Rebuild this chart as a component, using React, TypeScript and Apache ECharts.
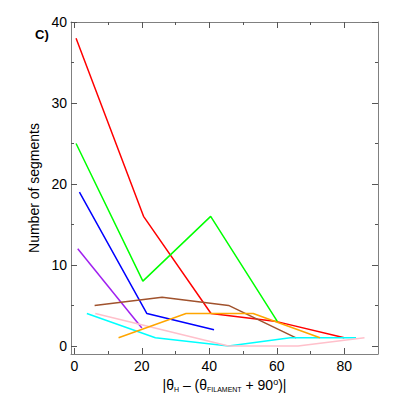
import React, { useEffect, useRef } from "react";
import * as echarts from "echarts";

const redData = [[0.5, 38], [20.5, 16], [40.5, 4], [60, 3], [80, 1]];
const greenData = [[0.5, 25], [20.3, 8], [40.4, 16], [60.2, 3]];
const blueData = [[1.5, 19], [21.5, 4], [41.4, 2]];
const purpleData = [[1, 12], [20, 2.2]];
const brownData = [[6, 5], [26, 6], [45.7, 5], [65.7, 1]];
const cyanData = [[3.7, 4], [24, 1], [45.7, 0], [64, 1], [83.5, 1]];
const pinkData = [[6.2, 4], [26, 2], [45.7, 0], [66.3, 0], [86, 1]];
const orangeData = [[13.1, 1], [33.1, 4], [53, 4], [72.8, 1]];

const xMajor = [0, 20, 40, 60, 80];
const xMinor = [10, 30, 50, 70];
const yMajor = [0, 10, 20, 30, 40];
const yMinor = [5, 15, 25, 35];

const FONT = "Liberation Sans, Arial, Helvetica, sans-serif";
const AX = "#808080";

export default function App() {
  const ref = useRef<HTMLDivElement>(null);
  useEffect(() => {
    if (!ref.current) return;
    const chart = echarts.init(ref.current, null, { renderer: "svg" });
    const baseX = (pos: string, ticks: number[], len: number, showLine: boolean, labels: boolean, name?: any) => ({
      type: "value",
      position: pos,
      min: -1,
      max: 90,
      splitLine: { show: false },
      axisLine: { show: showLine, onZero: false, lineStyle: { color: AX, width: 1 } },
      axisTick: { show: true, inside: true, length: len, customValues: ticks, lineStyle: { color: "#555", width: 1 } },
      axisLabel: labels
        ? { show: true, customValues: xMajor, color: "#000", fontSize: 14, fontFamily: FONT, margin: 5 }
        : { show: false },
      ...(name || {}),
    });
    const baseY = (pos: string, ticks: number[], len: number, showLine: boolean, labels: boolean, name?: any) => ({
      type: "value",
      position: pos,
      min: -1,
      max: 40,
      splitLine: { show: false },
      axisLine: { show: showLine, onZero: false, lineStyle: { color: AX, width: 1 } },
      axisTick: { show: true, inside: true, length: len, customValues: ticks, lineStyle: { color: "#555", width: 1 } },
      axisLabel: labels
        ? { show: true, customValues: yMajor, color: "#000", fontSize: 14, fontFamily: FONT, margin: 4 }
        : { show: false },
      ...(name || {}),
    });
    const mk = (data: number[][], color: string) => ({
      type: "line",
      data,
      xAxisIndex: 0,
      yAxisIndex: 0,
      symbol: "none",
      lineStyle: { color, width: 1.5 },
      itemStyle: { color },
    });
    chart.setOption({
      animation: false,
      grid: { left: 71, top: 22, right: 21, bottom: 45, containLabel: false },
      xAxis: [
        baseX("bottom", xMajor, 6, true, true, {
          name: "|θ{sub|H} – (θ{sub|FILAMENT} + 90{sup|o})|",
          nameLocation: "middle",
          nameGap: 18,
          nameTextStyle: {
            color: "#000",
            fontSize: 14,
            fontFamily: FONT,
            verticalAlign: "top",
            rich: {
              sub: { fontSize: 7, fontFamily: FONT, color: "#000", verticalAlign: "bottom", padding: [6, 0, 0, 0] },
              sup: { fontSize: 9, fontFamily: FONT, color: "#000", verticalAlign: "top", padding: [0, 0, 6, 0] },
            },
          },
        }),
        baseX("bottom", xMinor, 3, false, false),
        baseX("top", xMajor, 6, true, false),
        baseX("top", xMinor, 3, false, false),
      ],
      yAxis: [
        baseY("left", yMajor, 6, true, true, {
          name: "Number of segments",
          nameLocation: "middle",
          nameGap: 27,
          nameTextStyle: { color: "#000", fontSize: 14, fontFamily: FONT },
        }),
        baseY("left", yMinor, 3, false, false),
        baseY("right", yMajor, 6, true, false),
        baseY("right", yMinor, 3, false, false),
      ],
      graphic: [
        {
          type: "text",
          left: 35,
          top: 28,
          style: { text: "C)", font: "bold 13px Liberation Sans, Arial, sans-serif", fill: "#000" },
        },
      ],
      series: [
        mk(redData, "#ff0000"),
        mk(greenData, "#00ff00"),
        mk(blueData, "#0000ff"),
        mk(purpleData, "#a020f0"),
        mk(brownData, "#a0522d"),
        mk(cyanData, "#00ffff"),
        mk(pinkData, "#ffc0cb"),
        mk(orangeData, "#ffa500"),
      ],
    });
    return () => chart.dispose();
  }, []);
  return <div ref={ref} style={{ width: 399, height: 399, position: "absolute", left: 0, top: 0 }} />;
}
